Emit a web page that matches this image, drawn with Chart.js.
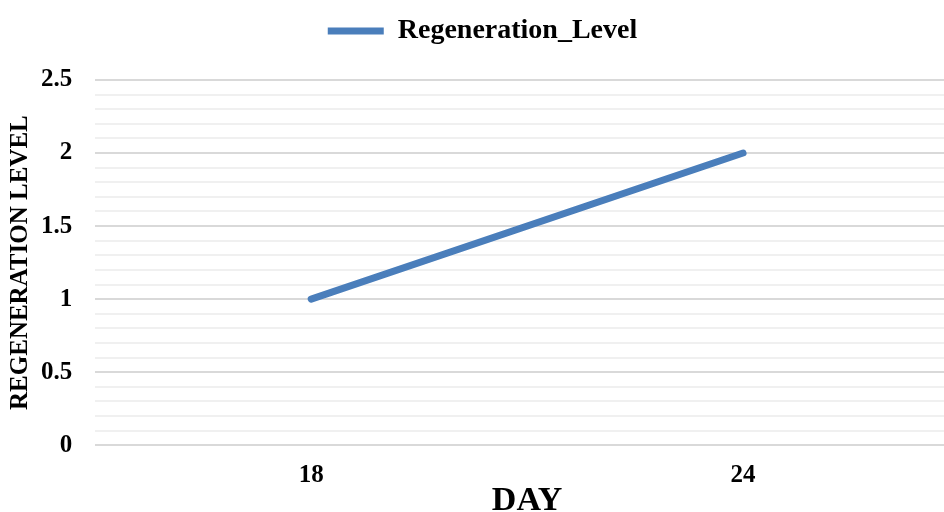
<!DOCTYPE html>
<html>
<head>
<meta charset="utf-8">
<script src="https://cdn.jsdelivr.net/npm/chart.js@4.4.1/dist/chart.umd.min.js"></script>
<style>
  html, body { margin: 0; padding: 0; background: #ffffff; overflow: hidden; }
  #wrap { position: relative; width: 960px; height: 522px; }
</style>
</head>
<body>
<div id="wrap"><canvas id="chart"></canvas></div>
<script>
// Days observed and the regeneration level recorded on each
const days = ['18', '24'];
const regenerationLevel = [1, 2];
const seriesName = 'Regeneration_Level';
// Labelled values on the level axis (minor grid lines every 0.1 between them)
const levelTickLabels = ['0', '0.5', '1', '1.5', '2', '2.5'];

const serif = "'Liberation Serif', 'Times New Roman', serif";
const lineColor = '#4a7ebb';

function isMajor(v) {
  return Math.round(v * 10) % 5 === 0;
}

// Leaves extra room between the legend and the plot area
const legendGap = {
  id: 'legendGap',
  afterInit(chart) {
    const legend = chart.legend;
    if (!legend) return;
    const fit = legend.fit;
    legend.fit = function () {
      fit.call(this);
      this.height += 25;
    };
  }
};

new Chart(document.getElementById('chart'), {
  type: 'line',
  data: {
    labels: days,
    datasets: [{
      label: seriesName,
      data: regenerationLevel,
      borderColor: lineColor,
      backgroundColor: lineColor,
      borderWidth: 7,
      borderCapStyle: 'round',
      borderJoinStyle: 'round',
      pointRadius: 0,
      pointHoverRadius: 0,
      tension: 0,
      fill: false
    }]
  },
  plugins: [legendGap],
  options: {
    responsive: true,
    maintainAspectRatio: false,
    animation: false,
    layout: { padding: { top: 7, left: 6, right: 1, bottom: 0 } },
    plugins: {
      tooltip: { enabled: false },
      legend: {
        position: 'top',
        labels: {
          usePointStyle: true,
          pointStyle: 'line',
          pointStyleWidth: 56,
          color: '#000000',
          padding: 10,
          font: { family: serif, size: 28, weight: 'bold' }
        }
      }
    },
    scales: {
      x: {
        offset: true,
        grid: { display: false, drawTicks: false },
        border: { display: false },
        ticks: {
          color: '#000000',
          padding: 15,
          font: { family: serif, size: 25, weight: 'bold' }
        },
        title: {
          display: true,
          text: 'DAY',
          color: '#000000',
          padding: { top: -24, bottom: 0 },
          font: { family: serif, size: 34, weight: 'bold' }
        }
      },
      y: {
        min: 0,
        max: 2.5,
        border: { display: false },
        grid: {
          color: (ctx) => isMajor(ctx.tick.value) ? '#d9d9d9' : '#f0f0f0',
          lineWidth: 2,
          drawTicks: false
        },
        ticks: {
          stepSize: 0.1,
          autoSkip: false,
          color: '#000000',
          padding: 23,
          font: { family: serif, size: 25, weight: 'bold' },
          callback: (value) => {
            const idx = Math.round(value * 10) / 5;
            return isMajor(value) ? levelTickLabels[idx] : '';
          }
        },
        title: {
          display: true,
          text: 'REGENERATION LEVEL',
          color: '#000000',
          padding: { top: 0, bottom: -18 },
          font: { family: serif, size: 25, weight: 'bold' }
        }
      }
    }
  }
});
</script>
</body>
</html>
